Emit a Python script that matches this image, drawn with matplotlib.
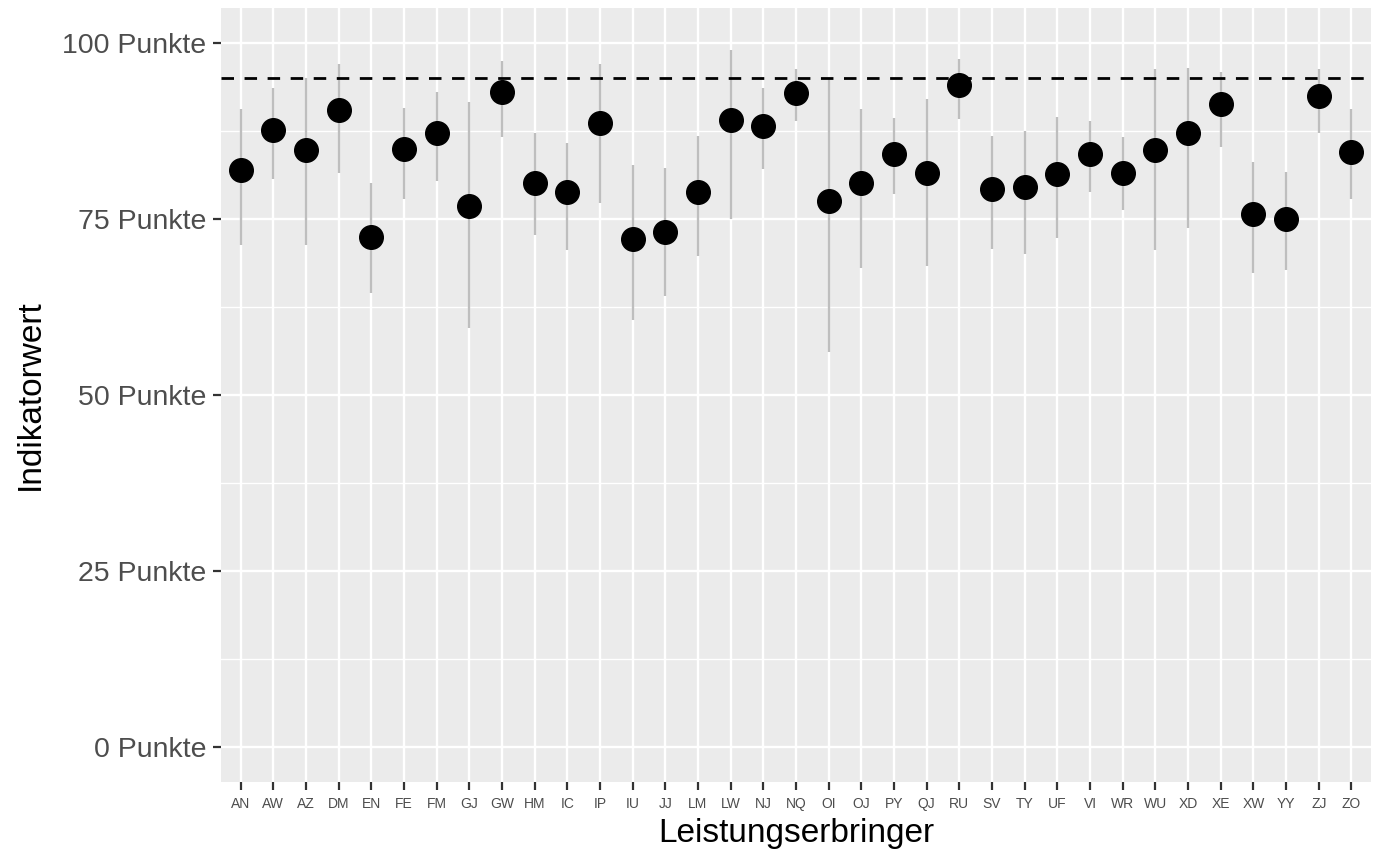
import numpy as np
import matplotlib
matplotlib.use("Agg")
import matplotlib.pyplot as plt

# Data
providers = ["AN", "AW", "AZ", "DM", "EN", "FE", "FM", "GJ", "GW", "HM", "IC", "IP",
             "IU", "JJ", "LM", "LW", "NJ", "NQ", "OI", "OJ", "PY", "QJ", "RU", "SV",
             "TY", "UF", "VI", "WR", "WU", "XD", "XE", "XW", "YY", "ZJ", "ZO"]
value = [82.0, 87.7, 84.8, 90.5, 72.5, 84.9, 87.3, 76.9, 93.0, 80.1, 78.8, 88.7,
         72.2, 73.2, 78.9, 89.1, 88.3, 92.9, 77.6, 80.1, 84.3, 81.6, 94.1, 79.3,
         79.5, 81.4, 84.2, 81.6, 84.8, 87.2, 91.3, 75.7, 75.0, 92.5, 84.6]
upper = [90.6, 93.6, 95.0, 97.0, 80.1, 90.8, 93.0, 91.7, 97.5, 87.3, 85.8, 97.0,
         82.7, 82.3, 86.8, 99.0, 93.6, 96.3, 94.9, 90.6, 89.4, 92.1, 97.8, 86.8,
         87.5, 89.5, 88.9, 86.7, 96.4, 96.5, 95.9, 83.1, 81.7, 96.4, 90.6]
lower = [71.3, 80.7, 71.3, 81.5, 64.5, 77.9, 80.4, 59.5, 86.6, 72.7, 70.6, 77.3,
         60.6, 64.1, 69.8, 75.0, 82.1, 88.9, 56.1, 68.1, 78.6, 68.4, 89.2, 70.8,
         70.0, 72.3, 78.9, 76.3, 70.6, 73.8, 85.3, 67.4, 67.8, 87.3, 77.8]
target = 95
y_ticks = [0, 25, 50, 75, 100]
y_labels = [f"{t} Punkte" for t in y_ticks]

plt.rcParams["font.family"] = ["Liberation Sans", "DejaVu Sans"]

fig = plt.figure(figsize=(13.76, 8.52), dpi=100)
ax = fig.add_axes([221 / 1376, 70 / 852, 1150 / 1376, 774 / 852])
ax.set_facecolor("#EBEBEB")

x = np.arange(1, len(providers) + 1)

# grid
for yv in [12.5, 37.5, 62.5, 87.5]:
    ax.axhline(yv, color="white", lw=1.0, zorder=0)
for yv in y_ticks:
    ax.axhline(yv, color="white", lw=1.7, zorder=0)
for xv in x:
    ax.axvline(xv, color="white", lw=1.7, zorder=0)

ax.vlines(x, lower, upper, color="#BEBEBE", lw=1.7, zorder=2)
ax.axhline(target, color="black", lw=2.0, dashes=(4.5, 3.8), zorder=3)
ax.plot(x, value, "o", color="black", markersize=17, zorder=4)

ax.set_xlim(0.4, len(providers) + 0.6)
ax.set_ylim(-5, 105)
ax.set_xticks(x)
ax.set_xticklabels(providers, fontsize=10, color="#4D4D4D")
ax.set_yticks(y_ticks)
ax.set_yticklabels(y_labels, fontsize=20.5, color="#4D4D4D")
ax.tick_params(axis="both", length=5.5, width=1.6, color="#333333")
ax.tick_params(axis="x", pad=5)
ax.tick_params(axis="y", pad=5)

for s in ax.spines.values():
    s.set_visible(False)

ax.set_xlabel("Leistungserbringer", fontsize=24, labelpad=5)
ax.set_ylabel("Indikatorwert", fontsize=24, labelpad=12)

fig.savefig("out.png", dpi=100)
